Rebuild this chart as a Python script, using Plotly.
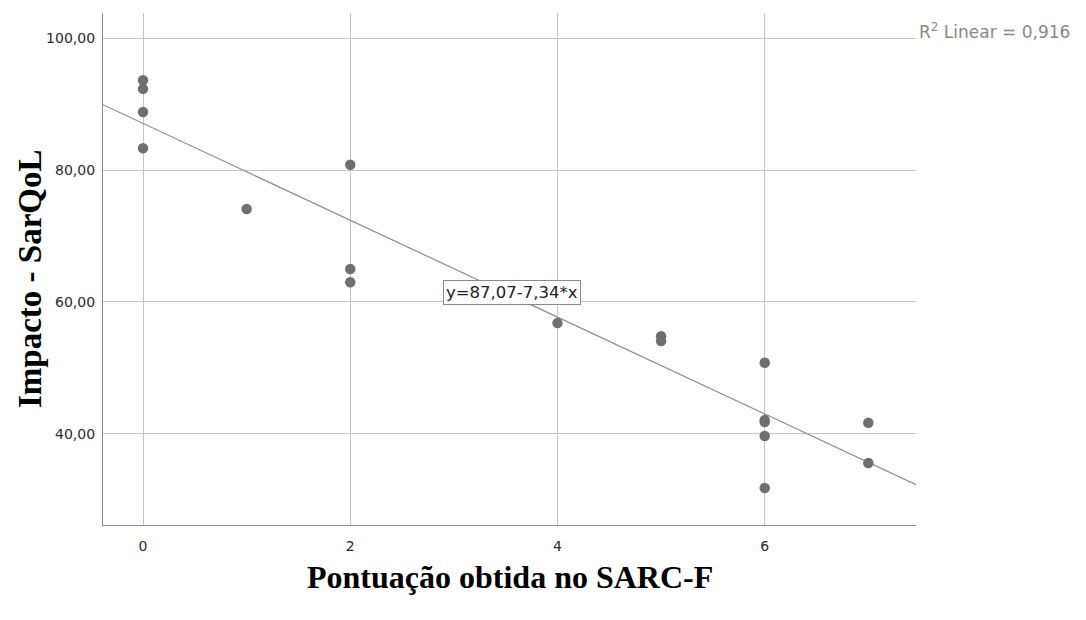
import plotly.graph_objects as go

# Data
sarc_f = [0, 0, 0, 0, 1, 2, 2, 2, 4, 5, 5, 6, 6, 6, 6, 6, 7, 7]
sarqol = [93.6, 92.3, 88.8, 83.3, 74.1, 80.8, 65.0, 63.0, 56.8, 54.8, 54.1,
          50.8, 42.1, 41.8, 39.7, 31.8, 41.7, 35.6]

intercept = 87.07
slope = -7.34
r2_text = "R<sup>2</sup> Linear = 0,916"
eq_text = "y=87,07-7,34*x"

x_range = [-0.386, 7.46]
y_range = [26.2, 103.8]
x_ticks = [0, 2, 4, 6]
y_ticks = [40, 60, 80, 100]

# page body has an 8px margin; figure is sized/offset to compensate
OFF = 8
W, H = 1086 - OFF, 620 - OFF
L, R, T, B = 103 - OFF, 1086 - 916, 13 - OFF, 620 - 525
PW, PH = W - L - R, H - T - B


def px_x(ax):
    return (ax - OFF - L) / PW


def px_y(ay):
    return 1 - (ay - OFF - T) / PH


fig = go.Figure()

fig.add_trace(go.Scatter(
    x=x_range,
    y=[intercept + slope * v for v in x_range],
    mode="lines",
    line=dict(color="#8c8c8c", width=1.2),
    hoverinfo="skip",
    showlegend=False,
))

fig.add_trace(go.Scatter(
    x=sarc_f, y=sarqol, mode="markers",
    marker=dict(color="#6f6f6f", size=10.5),
    showlegend=False,
))

fig.update_layout(
    width=W, height=H,
    margin=dict(l=L, r=R, t=T, b=B),
    plot_bgcolor="white", paper_bgcolor="white",
    separators=",.",
    font=dict(family="DejaVu Sans", size=14, color="#333333"),
)

fig.update_xaxes(
    range=x_range, tickvals=x_ticks, showgrid=True, gridcolor="#c4c4c4", gridwidth=1,
    showline=True, linecolor="#8a8a8a", linewidth=1.2, zeroline=False,
    ticks="", ticklabelstandoff=8,
    tickfont=dict(family="DejaVu Sans", size=14, color="#2a2a2a"),
)
fig.update_yaxes(
    range=y_range, tickvals=y_ticks, tickformat=".2f", showgrid=True,
    gridcolor="#c4c4c4", gridwidth=1,
    showline=True, linecolor="#8a8a8a", linewidth=1.2, zeroline=False,
    ticks="", ticklabelstandoff=4,
    tickfont=dict(family="DejaVu Sans", size=14, color="#2a2a2a"),
)

fig.add_annotation(
    x=3.56, y=61.4, xref="x", yref="y", text=eq_text, showarrow=False,
    font=dict(family="DejaVu Sans", size=16.5, color="#222222"),
    bgcolor="white", bordercolor="#8a8a8a", borderwidth=1, borderpad=2,
)

fig.add_annotation(
    x=px_x(917), y=px_y(31), xref="paper", yref="paper", text=r2_text,
    showarrow=False, xanchor="left", yanchor="middle",
    font=dict(family="DejaVu Sans", size=17, color="#888888"),
)

fig.add_annotation(
    x=px_x(510), y=px_y(577), xref="paper", yref="paper",
    text="<b>Pontuação obtida no SARC-F</b>", showarrow=False,
    xanchor="center", yanchor="middle",
    font=dict(family="Liberation Serif", size=32, color="black"),
)
fig.add_annotation(
    x=px_x(30), y=px_y(279), xref="paper", yref="paper",
    text="<b>Impacto - SarQoL</b>", showarrow=False, textangle=-90,
    xanchor="center", yanchor="middle",
    font=dict(family="Liberation Serif", size=33, color="black"),
)

fig.write_html("out.html")
